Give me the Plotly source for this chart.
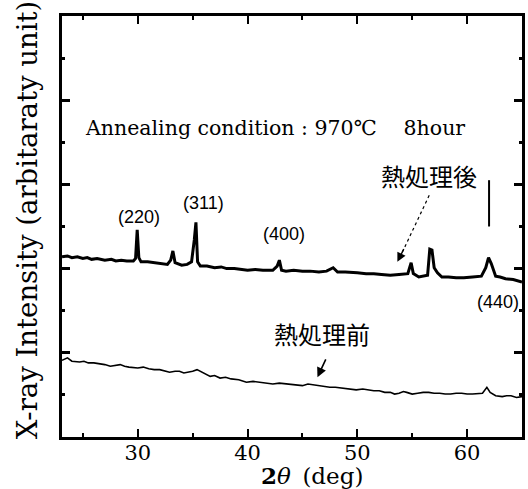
import plotly.graph_objects as go

# After annealing (熱処理後) trace
after_x = [23.1, 23.6, 24.0, 24.5, 25.0, 25.4, 25.8, 26.3, 27.0, 27.6, 28.0, 28.5, 29.0, 29.6,
           29.8, 29.95, 30.1, 30.3, 30.9, 31.5, 32.1, 32.7, 33.0, 33.2, 33.4, 34.0, 34.5, 34.9,
           35.15, 35.3, 35.45, 35.7, 36.3, 37.0, 37.6, 38.1, 38.8, 39.4, 40.0, 40.7, 41.4, 42.3,
           42.7, 42.9, 43.1, 43.5, 44.2, 45.0, 45.7, 46.5, 47.2, 47.8, 48.2, 48.9, 49.5, 50.0,
           50.8, 51.5, 52.2, 53.0, 53.8, 54.6, 54.9, 55.1, 55.6, 56.0, 56.4, 56.6, 56.8, 57.0,
           57.3, 57.7, 58.3, 59.0, 59.7, 60.5, 61.3, 61.7, 61.95, 62.2, 62.6, 63.0, 63.5, 64.2, 65.0]
after_y = [2.14, 2.15, 2.13, 2.14, 2.12, 2.13, 2.11, 2.12, 2.10, 2.11, 2.09, 2.10, 2.09, 2.09,
           2.12, 2.46, 2.13, 2.08, 2.08, 2.07, 2.06, 2.05, 2.10, 2.21, 2.07, 2.04, 2.05, 2.08,
           2.34, 2.55, 2.08, 2.03, 2.03, 2.01, 2.02, 2.00, 2.00, 1.99, 1.98, 1.99, 1.98, 1.98,
           2.03, 2.10, 1.98, 1.97, 1.98, 1.97, 1.97, 1.96, 1.97, 2.01, 1.96, 1.96, 1.95, 1.95,
           1.94, 1.94, 1.93, 1.92, 1.93, 1.94, 2.07, 1.94, 1.90, 1.91, 1.92, 2.23, 2.22, 2.01,
           1.95, 1.90, 1.90, 1.89, 1.89, 1.90, 1.91, 2.01, 2.13, 2.06, 1.91, 1.90, 1.88, 1.87, 1.84]

# Before annealing (熱処理前) trace
before_x = [23.1, 23.6, 24.0, 24.7, 25.1, 25.5, 26.0, 26.5, 27.0, 27.5, 28.0, 28.4, 28.8, 29.2,
            30.0, 30.5, 31.0, 31.5, 32.0, 32.4, 32.9, 33.4, 33.8, 34.2, 34.6, 35.0, 35.4, 36.0,
            36.6, 37.0, 37.5, 38.0, 38.5, 39.2, 39.9, 40.5, 41.0, 41.6, 42.3, 42.9, 43.5, 44.0,
            44.5, 45.0, 45.5, 46.0, 46.6, 47.0, 47.5, 48.0, 48.5, 49.2, 49.9, 50.5, 51.0, 51.5,
            52.0, 52.5, 53.0, 53.4, 53.8, 54.2, 54.5, 55.0, 55.5, 56.0, 56.5, 57.0, 57.5, 58.0,
            58.5, 59.0, 59.5, 60.0, 60.5, 61.0, 61.4, 61.8, 62.1, 62.6, 63.2, 63.6, 64.0, 64.5, 65.0]
before_y = [0.91, 0.94, 0.90, 0.89, 0.90, 0.88, 0.88, 0.87, 0.86, 0.84, 0.85, 0.86, 0.84, 0.83,
            0.82, 0.83, 0.81, 0.80, 0.80, 0.79, 0.77, 0.78, 0.78, 0.76, 0.77, 0.78, 0.80, 0.76,
            0.72, 0.73, 0.70, 0.71, 0.69, 0.68, 0.65, 0.66, 0.65, 0.64, 0.63, 0.64, 0.63, 0.62,
            0.62, 0.61, 0.63, 0.62, 0.61, 0.60, 0.59, 0.59, 0.58, 0.57, 0.56, 0.57, 0.56, 0.55,
            0.55, 0.53, 0.53, 0.51, 0.52, 0.54, 0.53, 0.51, 0.52, 0.53, 0.53, 0.52, 0.52, 0.51,
            0.51, 0.52, 0.52, 0.51, 0.51, 0.52, 0.52, 0.59, 0.53, 0.49, 0.48, 0.49, 0.49, 0.47, 0.48]

peak_labels = ["(220)", "(311)", "(400)", "(440)"]
peak_label_x = [30.1, 36.0, 43.3, 62.8]
peak_label_y = [2.61, 2.78, 2.41, 1.60]

x_ticks = [30, 40, 50, 60]

serif = "DejaVu Serif"
cjk = "Noto Sans CJK JP"

fig = go.Figure()
fig.add_trace(go.Scatter(x=after_x, y=after_y, mode="lines",
                         line=dict(color="black", width=3), showlegend=False))
fig.add_trace(go.Scatter(x=before_x, y=before_y, mode="lines",
                         line=dict(color="black", width=1.6), showlegend=False))

for t, x, y in zip(peak_labels, peak_label_x, peak_label_y):
    fig.add_annotation(x=x, y=y, text=t, showarrow=False,
                       font=dict(family="Liberation Sans", size=18, color="black"))

fig.add_annotation(x=25.0, y=3.67, xanchor="left", text="Annealing condition : 970\u2103\u2003 8hour",
                   showarrow=False, font=dict(family=serif, size=20.5, color="black"))
fig.add_annotation(x=56.55, y=3.11, text="熱処理後", showarrow=False,
                   font=dict(family=cjk, size=24, color="black"))
fig.add_annotation(x=46.74, y=1.235, text="熱処理前", showarrow=False,
                   font=dict(family=cjk, size=24, color="black"))

# axis titles as paper-positioned annotations
fig.add_annotation(xref="paper", yref="paper", x=0.543, y=-0.092, xanchor="center", yanchor="middle",
                   text="<b>2</b><i>θ</i>\u2002(deg)",
                   showarrow=False, font=dict(family=serif, size=23, color="black"))
fig.add_annotation(xref="paper", yref="paper", x=-0.076, y=0.515, xanchor="center", yanchor="middle",
                   textangle=-90, text="X-ray Intensity (arbitaraty unit)",
                   showarrow=False, font=dict(family=serif, size=27.5, color="black"))

# arrow for 熱処理後 (dotted shaft + head)
fig.add_shape(type="line", x0=56.55, y0=2.87, x1=53.9, y1=2.14,
              line=dict(color="black", width=1.2, dash="dot"))
fig.add_annotation(x=53.65, y=2.08, ax=54.3, ay=2.25, axref="x", ayref="y",
                   text="", showarrow=True, arrowhead=2, arrowsize=1.3, arrowwidth=1.4,
                   arrowcolor="black")
# arrow for 熱処理前
fig.add_annotation(x=46.37, y=0.71, ax=47.19, ay=0.94, axref="x", ayref="y",
                   text="", showarrow=True, arrowhead=2, arrowsize=1.2, arrowwidth=1.6,
                   arrowcolor="black")
# vertical marker line above (440)
fig.add_shape(type="line", x0=62.0, y0=2.50, x1=62.0, y1=3.05,
              line=dict(color="black", width=2))

fig.update_layout(
    width=528, height=489,
    margin=dict(l=62, r=6, t=16, b=52),
    paper_bgcolor="white", plot_bgcolor="white",
    font=dict(family=serif, color="black"),
    xaxis=dict(range=[23.1, 65.0], tickvals=x_ticks, ticks="inside", ticklen=8, tickwidth=1.5,
               tickcolor="black", showgrid=False, zeroline=False, showline=True, linewidth=2.5,
               linecolor="black", mirror="ticks", automargin=False, ticklabelstandoff=-5,
               minor=dict(dtick=5, tick0=0, ticks="inside", ticklen=4, tickcolor="black", showgrid=False),
               tickfont=dict(family=serif, size=21, color="black")),
    yaxis=dict(range=[0, 5], dtick=1, tick0=0, ticks="inside", ticklen=8, tickwidth=2.5,
               tickcolor="black", showticklabels=False, showgrid=False, zeroline=False,
               showline=True, linewidth=2.5, linecolor="black", mirror="ticks", automargin=False,
               minor=dict(dtick=0.5, ticks="inside", ticklen=3, tickcolor="black", showgrid=False)),
)

fig.write_html("out.html", post_script="document.body.style.margin='0px';",
               config={"displayModeBar": False})
